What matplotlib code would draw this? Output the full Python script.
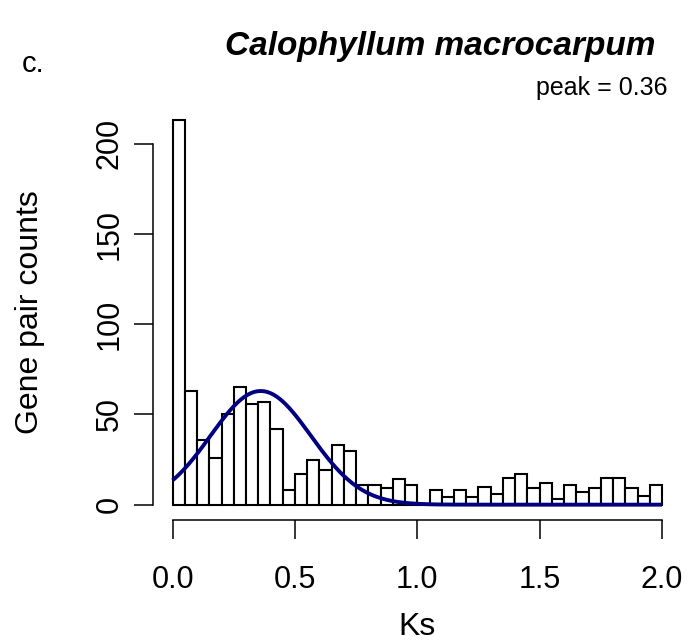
import numpy as np
import matplotlib
matplotlib.use("Agg")
import matplotlib.pyplot as plt

plt.rcParams['font.family'] = ['Liberation Sans', 'DejaVu Sans']

# Ks histogram, bin width 0.05 from 0 to 2
bin_edges = [round(0.05 * i, 2) for i in range(41)]
counts = [213, 63, 36, 26, 50, 65, 56, 57, 42, 8,
          17, 25, 19, 33, 30, 11, 11, 9, 14, 11,
          0, 8, 4, 8, 4, 10, 6, 15, 17, 9,
          12, 3, 11, 7, 9, 15, 15, 9, 5, 11]

# fitted normal component
peak_ks = 0.36
peak_sd = 0.205
peak_height = 63

x_ticks = [0.0, 0.5, 1.0, 1.5, 2.0]
x_ticklabels = ["0.0", "0.5", "1.0", "1.5", "2.0"]
y_ticks = [0, 50, 100, 150, 200]

fig = plt.figure(figsize=(6.94, 6.44), dpi=100)
ax = fig.add_axes([0.2205, 0.1925, 0.7616, 0.6444])

lefts = bin_edges[:-1]
ax.bar(lefts, counts, width=0.05, align='edge', facecolor='white',
       edgecolor='black', linewidth=1.5)

xs = np.linspace(0, 2, 400)
ys = peak_height * np.exp(-(xs - peak_ks) ** 2 / (2 * peak_sd ** 2))
ax.plot(xs, ys, color='#000080', linewidth=2.8, solid_capstyle='butt')

ax.set_xlim(-0.08, 2.08)
ax.set_ylim(-8.52, 221.52)

for s in ['top', 'right']:
    ax.spines[s].set_visible(False)
ax.spines['left'].set_bounds(0, 200)
ax.spines['bottom'].set_bounds(0, 2)
ax.spines['left'].set_linewidth(1.1)
ax.spines['bottom'].set_linewidth(1.1)

ax.set_xticks(x_ticks)
ax.set_xticklabels(x_ticklabels)
ax.set_yticks(y_ticks)
ax.set_yticklabels([str(v) for v in y_ticks], rotation=90, va='center')
ax.tick_params(axis='both', direction='out', length=13.5, width=1.1,
               labelsize=22)
ax.tick_params(axis='x', pad=19)
ax.tick_params(axis='y', pad=7)

ax.set_xlabel("Ks", fontsize=23, labelpad=12)
ax.set_ylabel("Gene pair counts", fontsize=23, labelpad=36)

fig.text(668 / 694, 1 - 88 / 644, "peak = %.2f" % peak_ks, ha='right',
         va='center', fontsize=18)

fig.text(655 / 694, 1 - 47 / 644, "Calophyllum macrocarpum", ha='right',
         va='center', fontsize=24, fontweight='bold', fontstyle='italic')
fig.text(22 / 694, 1 - 64 / 644, "c.", ha='left', va='center', fontsize=21)

fig.savefig("out.png", dpi=100)
